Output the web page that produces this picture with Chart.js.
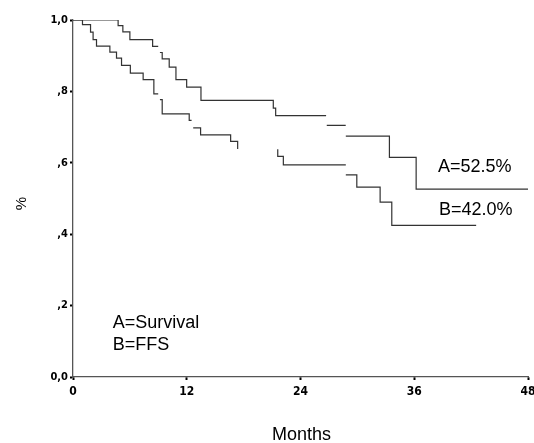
<!DOCTYPE html>
<html>
<head>
<meta charset="utf-8">
<script src="https://cdn.jsdelivr.net/npm/chart.js@4.4.1/dist/chart.umd.min.js"></script>
<style>
  html, body { margin: 0; padding: 0; background: #fff; }
  #wrap { width: 534px; height: 443px; }
</style>
</head>
<body>
<div id="wrap"><canvas id="c" width="534" height="443"></canvas></div>
<script>
// ---- data (months, cumulative proportion); null = break in the drawn curve ----
const survivalTimes  = [0, 4.76, 5.26, 6.00, 8.40, 8.99, 8.99, 9.17, 9.41, 10.15, 10.86, 11.99, 13.50, 21.13, 21.38, 26.70, 26.70, 26.77, 28.77, 28.77, 28.78, 33.38, 36.20, 48.0];
const survivalValues = [1.0, 0.984, 0.967, 0.945, 0.926, 0.926, null, 0.909, 0.891, 0.868, 0.833, 0.812, 0.775, 0.753, 0.732, 0.732, null, 0.705, 0.705, null, 0.675, 0.615, 0.526, 0.526];

const ffsTimes  = [0, 1.0, 1.85, 2.12, 2.48, 3.89, 4.59, 5.12, 6.05, 7.40, 8.53, 8.99, 8.99, 9.17, 9.41, 12.26, 12.51, 12.51, 12.68, 13.46, 16.63, 17.37, 17.37, 21.6, 21.6, 22.19, 28.78, 28.78, 28.78, 29.94, 32.40, 33.63, 42.53];
const ffsValues = [1.0, 0.987, 0.966, 0.945, 0.927, 0.910, 0.893, 0.873, 0.851, 0.833, 0.793, 0.793, null, 0.777, 0.737, 0.719, 0.719, null, 0.698, 0.678, 0.660, 0.639, null, 0.638, 0.618, 0.594, 0.594, null, 0.566, 0.532, 0.490, 0.425, 0.425];

const xTickValues = [0, 12, 24, 36, 48];
const xTickLabels = ['0', '12', '24', '36', '48'];
const yTickValues = [0, 0.2, 0.4, 0.6, 0.8, 1.0];
const yTickLabels = ['0,0', ',2', ',4', ',6', ',8', '1,0'];

const annotationTexts = ['A=52.5%', 'B=42.0%', 'A=Survival', 'B=FFS'];
const xTitle = 'Months';
const yTitle = '%';

// ---- styling / placement ----
const annotationPlace = [[38.5, 0.575], [38.6, 0.453], [4.2, 0.137], [4.2, 0.075]];
const tickFont = "'Liberation Sans Narrow', 'DejaVu Sans Condensed', 'Liberation Sans', sans-serif";
const textFont = "'Liberation Sans', Arial, sans-serif";

function toPoints(ts, vs) { return ts.map((t, i) => ({ x: t, y: vs[i] })); }

const textPlugin = {
  id: 'texts',
  beforeDraw(chart) {
    const ctx = chart.ctx;
    ctx.save();
    ctx.fillStyle = '#fff';
    ctx.fillRect(0, 0, chart.width, chart.height);
    ctx.restore();
  },
  afterDraw(chart) {
    const ctx = chart.ctx;
    const xs = chart.scales.x, ys = chart.scales.y;
    ctx.save();
    ctx.fillStyle = '#000';
    ctx.font = '18px ' + textFont;
    ctx.textAlign = 'left';
    ctx.textBaseline = 'alphabetic';
    annotationTexts.forEach((t, i) => {
      ctx.fillText(t, xs.getPixelForValue(annotationPlace[i][0]), ys.getPixelForValue(annotationPlace[i][1]));
    });
    // axis titles
    ctx.textAlign = 'center';
    ctx.font = '18px ' + textFont;
    ctx.fillText(xTitle, (chart.chartArea.left + chart.chartArea.right) / 2 + 1, 440);
    ctx.translate(26, (chart.chartArea.top + chart.chartArea.bottom) / 2 + 5);
    ctx.rotate(-Math.PI / 2);
    ctx.font = '15px ' + textFont;
    ctx.fillText(yTitle, 0, 0);
    ctx.restore();
  }
};

new Chart(document.getElementById('c'), {
  type: 'line',
  data: {
    datasets: [
      { label: 'A=Survival', data: toPoints(survivalTimes, survivalValues), stepped: 'before',
        borderColor: '#333', borderWidth: 1.2, pointRadius: 0, fill: false, spanGaps: false },
      { label: 'B=FFS', data: toPoints(ffsTimes, ffsValues), stepped: 'before',
        borderColor: '#333', borderWidth: 1.2, pointRadius: 0, fill: false, spanGaps: false }
    ]
  },
  options: {
    responsive: false,
    animation: false,
    devicePixelRatio: 1,
    layout: { padding: { top: 20, right: 6, left: 0, bottom: 0 } },
    plugins: { legend: { display: false }, tooltip: { enabled: false } },
    scales: {
      x: {
        type: 'linear', min: 0, max: 48,
        afterBuildTicks: s => { s.ticks = xTickValues.map(v => ({ value: v })); },
        ticks: {
          callback: (v) => xTickLabels[xTickValues.indexOf(v)],
          color: '#000', padding: 5, maxRotation: 0, autoSkip: false,
          font: { family: tickFont, size: 12, weight: 'bold' }
        },
        grid: { display: true, drawOnChartArea: false, drawTicks: true, tickLength: 3, tickColor: '#000', tickWidth: 2 },
        border: { display: true, color: '#555', width: 1.3 },
        afterFit: s => { s.height = 66; s.paddingLeft = 0; s.paddingRight = 0; }
      },
      y: {
        type: 'linear', min: 0, max: 1,
        afterBuildTicks: s => { s.ticks = yTickValues.map(v => ({ value: v })); },
        ticks: {
          callback: (v) => { const i = yTickValues.findIndex(t => Math.abs(t - v) < 1e-6); return yTickLabels[i]; },
          color: '#000', padding: 2, autoSkip: false,
          font: { family: tickFont, size: 11, weight: 'bold' }
        },
        grid: { display: true, drawOnChartArea: false, drawTicks: true, tickLength: 3, tickColor: '#000', tickWidth: 2 },
        border: { display: true, color: '#555', width: 1.3 },
        afterFit: s => { s.width = 73; s.paddingTop = 0; s.paddingBottom = 0; }
      }
    }
  },
  plugins: [textPlugin]
});
</script>
</body>
</html>
